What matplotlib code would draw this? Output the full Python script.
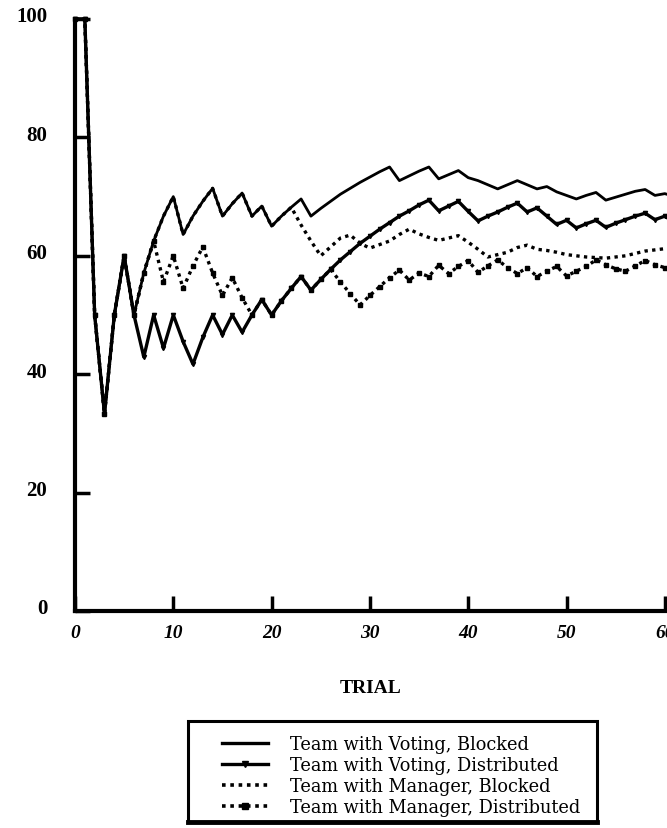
import matplotlib
matplotlib.use("Agg")
import matplotlib.pyplot as plt
from matplotlib.lines import Line2D
from matplotlib.patches import Rectangle
from matplotlib.transforms import ScaledTranslation

trials = list(range(0, 62))

voting_blocked = [100, 100, 50, 33.3, 50, 60, 50, 57.1, 62.5, 66.7,
                  70, 63.6, 66.7, 69.2, 71.4, 66.7, 68.8, 70.6, 66.7, 68.4,
                  65, 66.7, 68.2, 69.6, 66.7, 68, 69.2, 70.4, 71.4, 72.4,
                  73.3, 74.2, 75, 72.7, 73.5, 74.3, 75, 73, 73.7, 74.4,
                  73.2, 72.7, 72, 71.3, 72, 72.7, 72, 71.3, 71.7, 70.8,
                  70.2, 69.6, 70.2, 70.7, 69.4, 69.9, 70.4, 70.9, 71.2, 70.2,
                  70.5, 70]

voting_distributed = [100, 100, 50, 33.3, 50, 60, 50, 42.9, 50, 44.4,
                      50, 45.5, 41.7, 46.2, 50, 46.7, 50, 47.1, 50, 52.6,
                      50, 52.4, 54.5, 56.5, 54.2, 56, 57.7, 59.3, 60.7, 62.1,
                      63.3, 64.5, 65.6, 66.7, 67.6, 68.6, 69.4, 67.6, 68.4, 69.2,
                      67.5, 65.9, 66.7, 67.4, 68.2, 68.9, 67.4, 68.1, 66.7, 65.3,
                      66, 64.7, 65.4, 66, 64.8, 65.5, 66.1, 66.7, 67.2, 66.1,
                      66.7, 65.6]

manager_blocked = [100, 100, 50, 33.3, 50, 60, 50, 57.1, 62.5, 66.7,
                   70, 63.6, 66.7, 69.2, 71.4, 66.7, 68.8, 70.6, 66.7, 68.4,
                   65, 66.7, 68.2, 65.2, 62.5, 60, 61.5, 63, 63.5, 62.1,
                   61.3, 61.9, 62.5, 63.6, 64.5, 63.7, 63.1, 62.6, 63, 63.4,
                   62.3, 61.1, 59.8, 60.2, 60.6, 61.4, 61.8, 61.1, 60.9, 60.6,
                   60.2, 60, 59.8, 59.7, 59.6, 59.8, 60, 60.4, 60.8, 61,
                   61.2, 61]

manager_distributed = [100, 100, 50, 33.3, 50, 60, 50, 57.1, 62.5, 55.6,
                       60, 54.5, 58.3, 61.5, 57.1, 53.3, 56.3, 52.9, 50, 52.6,
                       50, 52.4, 54.5, 56.5, 54.2, 56, 57.7, 55.6, 53.6, 51.7,
                       53.3, 54.8, 56.3, 57.6, 55.9, 57.1, 56.5, 58.4, 57, 58.2,
                       59.2, 57.2, 58.3, 59.3, 58, 57, 58, 56.5, 57.4, 58.2,
                       56.6, 57.4, 58.2, 59.3, 58.5, 57.8, 57.4, 58.3, 59.2, 58.5,
                       58, 58]

labels = ["Team with Voting, Blocked", "Team with Voting, Distributed",
          "Team with Manager, Blocked", "Team with Manager, Distributed"]
xticks = [0, 10, 20, 30, 40, 50, 60]
yticks = [0, 20, 40, 60, 80, 100]

W, H = 667, 829
fig = plt.figure(figsize=(W / 100, H / 100), dpi=100)
ax = fig.add_axes([75 / W, 1 - 612 / H, (W - 75) / W, (612 - 20) / H])

dot = (0, (1, 1.3))
ax.plot(trials, voting_blocked, color="black", lw=2.0, clip_on=False,
        label=labels[0])
ax.plot(trials, voting_distributed, color="black", lw=2.4, marker="v",
        markersize=3, clip_on=False, label=labels[1])
ax.plot(trials, manager_blocked, color="black", lw=2.4, ls=dot,
        clip_on=False, label=labels[2])
ax.plot(trials, manager_distributed, color="black", lw=2.4, ls=dot,
        marker="s", markersize=3.2, clip_on=False, label=labels[3])

ax.set_xlim(0, (W - 75) / 9.83)
ax.set_ylim(0, 100)
for s in ["top", "right"]:
    ax.spines[s].set_visible(False)
for s in ["left", "bottom"]:
    ax.spines[s].set_linewidth(3)
ax.set_xticks(xticks)
ax.set_yticks(yticks)
ax.tick_params(axis="both", direction="in", length=11, width=2.5)
ax.tick_params(axis="y", pad=20)
ax.tick_params(axis="x", pad=9.5)
ax.set_yticklabels([str(v) for v in yticks], fontfamily="Liberation Serif",
                   fontweight="bold", fontsize=15)
ax.set_xticklabels([str(v) for v in xticks], fontfamily="Liberation Serif",
                   fontweight="bold", fontstyle="italic", fontsize=14)
up = ScaledTranslation(0, 3.6 / 72, fig.dpi_scale_trans)
for lab in ax.get_yticklabels():
    lab.set_transform(lab.get_transform() + up)
ax.set_xlabel("TRIAL", fontfamily="Liberation Serif", fontweight="bold",
              fontsize=14, labelpad=27)

# legend box
fig.patches.append(Rectangle((188 / W, 1 - 823 / H), 409 / W, 101 / H,
                             transform=fig.transFigure, fill=False,
                             edgecolor="black", lw=2.2))
fig.lines.append(Line2D([188 / W, 597 / W], [1 - 823 / H, 1 - 823 / H],
                        transform=fig.transFigure, color="black", lw=3.5))

handles = [
    Line2D([], [], color="black", lw=2.4),
    Line2D([], [], color="black", lw=2.4, marker="v", markersize=4),
    Line2D([], [], color="black", lw=2.6, ls=dot),
    Line2D([], [], color="black", lw=2.6, ls=dot, marker="s", markersize=4),
]
leg = fig.legend(handles, labels, loc="upper left",
                 bbox_to_anchor=(222 / W, 1 - 736 / H),
                 bbox_transform=fig.transFigure,
                 prop={"family": "DejaVu Serif", "size": 12.8},
                 frameon=False, handlelength=2.6, handletextpad=1.25,
                 labelspacing=0.17, borderpad=0, borderaxespad=0)
for h in leg.legend_handles:
    h.set_markevery([1])

fig.savefig("out.png", dpi=100, facecolor="white")
